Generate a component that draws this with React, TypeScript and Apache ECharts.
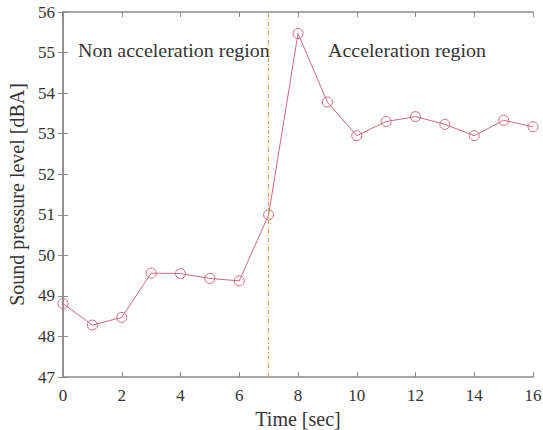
import React, { useEffect, useRef } from "react";
import * as echarts from "echarts";

const timeSec = [0, 1, 2, 3, 4, 5, 6, 7, 8, 9, 10, 11, 12, 13, 14, 15, 16];
const splDBA = [48.81, 48.28, 48.47, 49.56, 49.55, 49.43, 49.37, 51.0, 55.47, 53.78, 52.95, 53.3, 53.42, 53.23, 52.95, 53.33, 53.17];
const boundaryTime = 7;
const regionLabels = ["Non acceleration region", "Acceleration region"];

const FONT = "Liberation Serif";
const AXIS = "#8a8a8a";

export default function App() {
  const ref = useRef<HTMLDivElement>(null);
  useEffect(() => {
    document.body.style.margin = "0";
    const chart = echarts.init(ref.current!, null, { renderer: "svg" });
    const frame = {
      axisLine: { show: true, lineStyle: { color: AXIS, width: 1.5 } },
      axisTick: { show: true, inside: true, length: 5, lineStyle: { color: AXIS } },
      splitLine: { show: false },
    };
    chart.setOption({
      animation: false,
      backgroundColor: "#fff",
      grid: { left: 63, right: 10, top: 12, bottom: 53, outerBoundsMode: "none", containLabel: false },
      xAxis: [
        {
          type: "value", min: 0, max: 16, interval: 2, position: "bottom",
          name: "Time [sec]", nameLocation: "middle", nameGap: 23,
          nameTextStyle: { fontFamily: FONT, fontSize: 20, color: "#333" },
          axisLabel: { fontFamily: FONT, fontSize: 17, color: "#333", margin: 10 },
          ...frame,
        },
        {
          type: "value", min: 0, max: 16, interval: 2, position: "top",
          axisLabel: { show: false }, ...frame,
        },
      ],
      yAxis: [
        {
          type: "value", min: 47, max: 56, interval: 1, position: "left",
          name: "Sound pressure level [dBA]", nameLocation: "middle", nameGap: 34,
          nameTextStyle: { fontFamily: FONT, fontSize: 20, color: "#333" },
          axisLabel: { fontFamily: FONT, fontSize: 17, color: "#333", margin: 8 },
          ...frame,
        },
        {
          type: "value", min: 47, max: 56, interval: 1, position: "right",
          axisLabel: { show: false }, ...frame,
        },
      ],
      graphic: [
        { type: "text", x: 78, y: 51, scaleX: 1.11, originX: 0, originY: 0,
          style: { text: regionLabels[0], font: `18px "${FONT}"`, fill: "#333", verticalAlign: "middle" } },
        { type: "text", x: 328, y: 51, scaleX: 1.11, originX: 0, originY: 0,
          style: { text: regionLabels[1], font: `18px "${FONT}"`, fill: "#333", verticalAlign: "middle" } },
      ],
      series: [
        {
          type: "line",
          data: timeSec.map((t, i) => [t, splDBA[i]]),
          symbol: "circle",
          symbolSize: 10,
          showAllSymbol: true,
          lineStyle: { color: "#cc6a80", width: 1 },
          itemStyle: { color: "rgba(0,0,0,0)", borderColor: "#cc6a80", borderWidth: 1 },
          markLine: {
            silent: true,
            symbol: "none",
            label: { show: false },
            lineStyle: { color: "#e39a4f", width: 1, type: [4, 2, 1, 2] },
            data: [{ xAxis: boundaryTime }],
          },
          z: 3,
        },
      ],
    });
    return () => chart.dispose();
  }, []);
  return <div ref={ref} style={{ width: 543, height: 430 }} />;
}
